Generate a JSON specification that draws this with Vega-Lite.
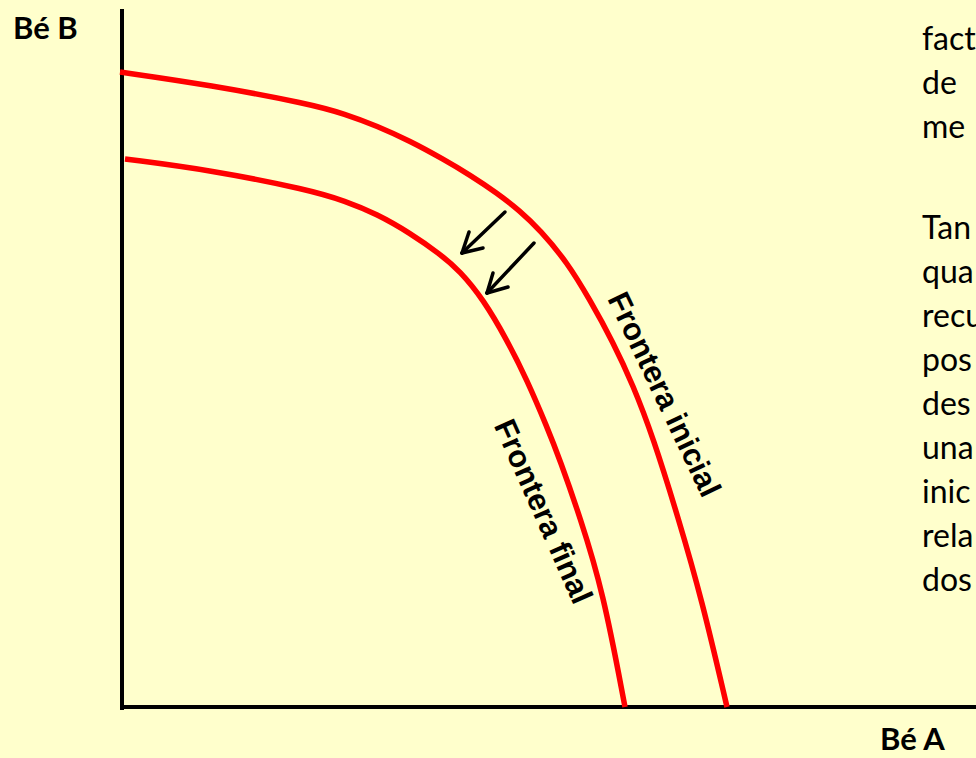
{
  "$schema": "https://vega.github.io/schema/vega-lite/v6.json",
  "width": 976,
  "height": 758,
  "padding": 0,
  "autosize": {"type": "none"},
  "background": "#FFFFCC",
  "config": {"view": {"stroke": null}},
  "datasets": {
    "frontiers": [
      {"frontera": "inicial", "a": -2, "b": 635},
      {"frontera": "inicial", "a": 88, "b": 622},
      {"frontera": "inicial", "a": 188, "b": 603},
      {"frontera": "inicial", "a": 223, "b": 593},
      {"frontera": "inicial", "a": 255, "b": 581},
      {"frontera": "inicial", "a": 288, "b": 566},
      {"frontera": "inicial", "a": 321, "b": 548},
      {"frontera": "inicial", "a": 348, "b": 532},
      {"frontera": "inicial", "a": 375, "b": 514},
      {"frontera": "inicial", "a": 398, "b": 496},
      {"frontera": "inicial", "a": 418, "b": 477},
      {"frontera": "inicial", "a": 445, "b": 445},
      {"frontera": "inicial", "a": 468, "b": 407},
      {"frontera": "inicial", "a": 491, "b": 365},
      {"frontera": "inicial", "a": 511, "b": 322},
      {"frontera": "inicial", "a": 531, "b": 270},
      {"frontera": "inicial", "a": 556, "b": 190},
      {"frontera": "inicial", "a": 580, "b": 107},
      {"frontera": "inicial", "a": 605, "b": 0},
      {"frontera": "final", "a": 3, "b": 548},
      {"frontera": "final", "a": 88, "b": 537},
      {"frontera": "final", "a": 188, "b": 517},
      {"frontera": "final", "a": 223, "b": 506},
      {"frontera": "final", "a": 255, "b": 493},
      {"frontera": "final", "a": 288, "b": 474},
      {"frontera": "final", "a": 318, "b": 453},
      {"frontera": "final", "a": 338, "b": 436},
      {"frontera": "final", "a": 361, "b": 408},
      {"frontera": "final", "a": 385, "b": 367},
      {"frontera": "final", "a": 405, "b": 327},
      {"frontera": "final", "a": 425, "b": 280},
      {"frontera": "final", "a": 438, "b": 247},
      {"frontera": "final", "a": 458, "b": 190},
      {"frontera": "final", "a": 481, "b": 116},
      {"frontera": "final", "a": 503, "b": 0}
    ],
    "axes": [
      {"eix": "B", "a": 0, "a2": 0, "b": -3, "b2": 698},
      {"eix": "A", "a": -2, "a2": 860, "b": 0, "b2": 0}
    ],
    "arrows": [
      {"fletxa": 1, "part": "shaft", "a": 383, "b": 495, "a2": 340, "b2": 454},
      {"fletxa": 1, "part": "head1", "a": 340, "b": 454, "a2": 347, "b2": 475},
      {"fletxa": 1, "part": "head2", "a": 340, "b": 454, "a2": 361, "b2": 459},
      {"fletxa": 2, "part": "shaft", "a": 412, "b": 464, "a2": 365, "b2": 414},
      {"fletxa": 2, "part": "head1", "a": 365, "b": 414, "a2": 371, "b2": 434},
      {"fletxa": 2, "part": "head2", "a": 365, "b": 414, "a2": 386, "b2": 420}
    ],
    "axisLabels": [
      {"text": "Bé B", "a": -109, "b": 668},
      {"text": "Bé A", "a": 758, "b": -43}
    ],
    "paragraph": [
      {"text": "fact", "a": 800, "b": 657},
      {"text": "de", "a": 800, "b": 613},
      {"text": "me", "a": 800, "b": 569},
      {"text": "Tan", "a": 800, "b": 468},
      {"text": "qua", "a": 800, "b": 424},
      {"text": "recu", "a": 800, "b": 380},
      {"text": "pos", "a": 800, "b": 336},
      {"text": "des", "a": 800, "b": 292},
      {"text": "una", "a": 800, "b": 248},
      {"text": "inic", "a": 800, "b": 204},
      {"text": "rela", "a": 800, "b": 160},
      {"text": "dos", "a": 800, "b": 116}
    ],
    "labelInicial": [{"text": "Frontera inicial", "a": 541, "b": 312}],
    "labelFinal": [{"text": "Frontera final", "a": 420, "b": 195}]
  },
  "layer": [
    {
      "data": {"name": "axes"},
      "mark": {"type": "rule", "color": "#000000", "strokeWidth": 4},
      "encoding": {
        "x": {"field": "a", "type": "quantitative", "scale": {"domain": [-122, 854], "nice": false, "zero": false}, "axis": null},
        "x2": {"field": "a2"},
        "y": {"field": "b", "type": "quantitative", "scale": {"domain": [-51, 707], "nice": false, "zero": false}, "axis": null},
        "y2": {"field": "b2"}
      }
    },
    {
      "data": {"name": "frontiers"},
      "mark": {"type": "line", "color": "#FF0000", "strokeWidth": 5.5, "interpolate": "basis", "clip": false},
      "encoding": {
        "x": {"field": "a", "type": "quantitative", "scale": {"domain": [-122, 854], "nice": false, "zero": false}, "axis": null},
        "y": {"field": "b", "type": "quantitative", "scale": {"domain": [-51, 707], "nice": false, "zero": false}, "axis": null},
        "detail": {"field": "frontera"}
      }
    },
    {
      "data": {"name": "arrows"},
      "mark": {"type": "rule", "color": "#000000", "strokeWidth": 3.5, "strokeCap": "round"},
      "encoding": {
        "x": {"field": "a", "type": "quantitative", "scale": {"domain": [-122, 854], "nice": false, "zero": false}, "axis": null},
        "x2": {"field": "a2"},
        "y": {"field": "b", "type": "quantitative", "scale": {"domain": [-51, 707], "nice": false, "zero": false}, "axis": null},
        "y2": {"field": "b2"}
      }
    },
    {
      "data": {"name": "axisLabels"},
      "mark": {"type": "text", "font": "Lato", "fontWeight": "bold", "fontSize": 31, "align": "left", "baseline": "alphabetic", "color": "#000000"},
      "encoding": {
        "x": {"field": "a", "type": "quantitative", "scale": {"domain": [-122, 854], "nice": false, "zero": false}, "axis": null},
        "y": {"field": "b", "type": "quantitative", "scale": {"domain": [-51, 707], "nice": false, "zero": false}, "axis": null},
        "text": {"field": "text"}
      }
    },
    {
      "data": {"name": "paragraph"},
      "mark": {"type": "text", "font": "Lato", "fontSize": 32, "align": "left", "baseline": "alphabetic", "color": "#000000"},
      "encoding": {
        "x": {"field": "a", "type": "quantitative", "scale": {"domain": [-122, 854], "nice": false, "zero": false}, "axis": null},
        "y": {"field": "b", "type": "quantitative", "scale": {"domain": [-51, 707], "nice": false, "zero": false}, "axis": null},
        "text": {"field": "text"}
      }
    },
    {
      "data": {"name": "labelInicial"},
      "mark": {"type": "text", "font": "Arial", "fontWeight": "bold", "fontSize": 31, "align": "center", "baseline": "middle", "angle": 64.5, "color": "#000000"},
      "encoding": {
        "x": {"field": "a", "type": "quantitative", "scale": {"domain": [-122, 854], "nice": false, "zero": false}, "axis": null},
        "y": {"field": "b", "type": "quantitative", "scale": {"domain": [-51, 707], "nice": false, "zero": false}, "axis": null},
        "text": {"field": "text"}
      }
    },
    {
      "data": {"name": "labelFinal"},
      "mark": {"type": "text", "font": "Arial", "fontWeight": "bold", "fontSize": 31, "align": "center", "baseline": "middle", "angle": 66, "color": "#000000"},
      "encoding": {
        "x": {"field": "a", "type": "quantitative", "scale": {"domain": [-122, 854], "nice": false, "zero": false}, "axis": null},
        "y": {"field": "b", "type": "quantitative", "scale": {"domain": [-51, 707], "nice": false, "zero": false}, "axis": null},
        "text": {"field": "text"}
      }
    }
  ]
}
